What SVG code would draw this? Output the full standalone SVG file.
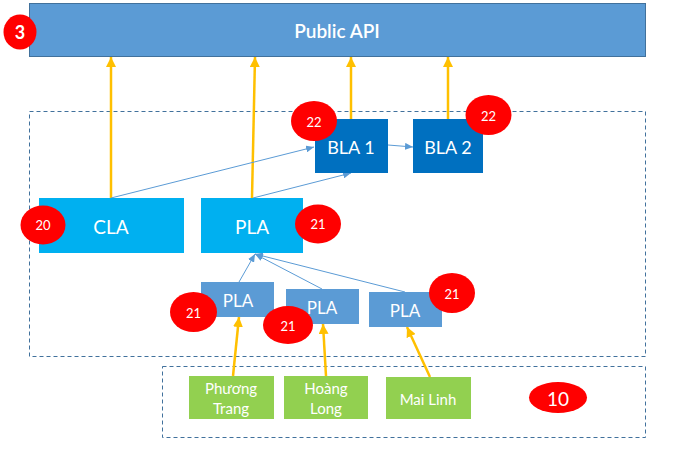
<svg xmlns="http://www.w3.org/2000/svg" width="687" height="455" viewBox="0 0 687 455">
<defs>
<style>
.t{font-family:Lato,"Liberation Sans",sans-serif;fill:#fff;text-anchor:middle;dominant-baseline:central}
.dash{fill:none;stroke:#41719C;stroke-width:1;stroke-dasharray:4 3}
.mid{fill:#5B9BD5}
.cyan{fill:#00B0F0}
.dark{fill:#0070C0}
.green{fill:#92D050}
.badge{fill:#FF0000}
.or{stroke:#FFC000;stroke-width:2.5;fill:none;marker-end:url(#ao)}
.bl{stroke:#5B9BD5;stroke-width:1;fill:none;marker-end:url(#ab)}
</style>
<marker id="ao" markerUnits="userSpaceOnUse" markerWidth="10" markerHeight="10" viewBox="0 0 10 10" refX="10" refY="5" orient="auto">
<path d="M0,0 L10,5 L0,10 Z" fill="#FFC000"/>
</marker>
<marker id="ab" markerUnits="userSpaceOnUse" markerWidth="8" markerHeight="7" viewBox="0 0 8 7" refX="8" refY="3.5" orient="auto">
<path d="M0,0 L8,3.5 L0,7 Z" fill="#5B9BD5"/>
</marker>
</defs>
<rect width="687" height="455" fill="#fff"/>
<rect class="dash" x="29.5" y="111.5" width="616" height="245"/>
<rect class="dash" x="162.5" y="366.5" width="483" height="71"/>
<g id="public-api">
<rect x="29.5" y="3.5" width="616" height="53" class="mid" stroke="#41719C" stroke-width="1"/>
<text class="t" x="337" y="30" font-size="19" font-weight="600">Public API</text>
</g>
<g id="connectors">
<line class="or" x1="111" y1="198" x2="111" y2="57"/>
<line class="or" x1="252" y1="198" x2="255" y2="57"/>
<line class="or" x1="351" y1="119" x2="351" y2="57"/>
<line class="or" x1="448" y1="119" x2="448" y2="57"/>
<line class="bl" x1="111" y1="198" x2="314" y2="147"/>
<line class="bl" x1="253" y1="198" x2="351" y2="173"/>
<line class="bl" x1="388" y1="145" x2="413" y2="147"/>
<line class="bl" x1="239" y1="282" x2="255" y2="254"/>
<line class="bl" x1="322" y1="289" x2="255" y2="254"/>
<line class="bl" x1="405" y1="292" x2="255" y2="254"/>
<line class="or" x1="233" y1="376" x2="239" y2="317"/>
<line class="or" x1="326" y1="376" x2="323" y2="324"/>
<line class="or" x1="430" y1="377" x2="407" y2="327"/>
</g>
<g id="cla">
<rect x="39" y="198" width="145" height="55" class="cyan"/>
<text class="t" x="111" y="226" font-size="19">CLA</text>
</g>
<g id="pla-top">
<rect x="201" y="198" width="102" height="55" class="cyan"/>
<text class="t" x="252" y="226" font-size="19">PLA</text>
</g>
<g id="bla1">
<rect x="315" y="119" width="73" height="54" class="dark"/>
<text class="t" x="351" y="147" font-size="18">BLA 1</text>
</g>
<g id="bla2">
<rect x="413" y="119" width="70" height="54" class="dark"/>
<text class="t" x="448" y="147" font-size="18">BLA 2</text>
</g>
<g id="pla1">
<rect x="201" y="282" width="73" height="35" class="mid"/>
<text class="t" x="238" y="300" font-size="17">PLA</text>
</g>
<g id="pla2">
<rect x="286" y="289" width="73" height="35" class="mid"/>
<text class="t" x="322" y="307" font-size="17">PLA</text>
</g>
<g id="pla3">
<rect x="369" y="292" width="73" height="35" class="mid"/>
<text class="t" x="405" y="310" font-size="17">PLA</text>
</g>
<g id="phuong-trang">
<rect x="189" y="376" width="85" height="43" class="green"/>
<text class="t" x="231" y="388" font-size="15">Phương</text>
<text class="t" x="231" y="408" font-size="15">Trang</text>
</g>
<g id="hoang-long">
<rect x="284" y="376" width="84" height="43" class="green"/>
<text class="t" x="326" y="388" font-size="15">Hoàng</text>
<text class="t" x="326" y="408" font-size="15">Long</text>
</g>
<g id="mai-linh">
<rect x="386" y="377" width="85" height="42" class="green"/>
<text class="t" x="428" y="399" font-size="15">Mai Linh</text>
</g>
<g id="badge-3">
<ellipse cx="20" cy="32" rx="16.5" ry="17.5" class="badge"/>
<text class="t" x="20" y="32" font-size="18" font-weight="bold">3</text>
</g>
<g id="badge-20">
<ellipse cx="43" cy="225" rx="22.5" ry="19.5" class="badge"/>
<text class="t" x="43" y="225" font-size="13">20</text>
</g>
<g id="badge-21-top">
<ellipse cx="318" cy="224" rx="23" ry="19.5" class="badge"/>
<text class="t" x="318" y="224" font-size="13">21</text>
</g>
<g id="badge-22-bla1">
<ellipse cx="314" cy="121" rx="23" ry="20" class="badge"/>
<text class="t" x="314" y="122" font-size="13">22</text>
</g>
<g id="badge-22-bla2">
<ellipse cx="488.5" cy="115" rx="23" ry="20" class="badge"/>
<text class="t" x="488.5" y="116" font-size="13">22</text>
</g>
<g id="badge-21-pla1">
<ellipse cx="193.5" cy="312" rx="23.5" ry="20" class="badge"/>
<text class="t" x="193.5" y="313" font-size="13">21</text>
</g>
<g id="badge-21-pla2">
<ellipse cx="288" cy="325" rx="25" ry="19" class="badge"/>
<text class="t" x="288" y="326" font-size="13">21</text>
</g>
<g id="badge-21-pla3">
<ellipse cx="452" cy="293" rx="23" ry="20" class="badge"/>
<text class="t" x="452" y="294" font-size="13">21</text>
</g>
<g id="badge-10">
<ellipse cx="558" cy="397.5" rx="29" ry="15.5" class="badge"/>
<text class="t" x="558" y="398" font-size="19">10</text>
</g>
</svg>
